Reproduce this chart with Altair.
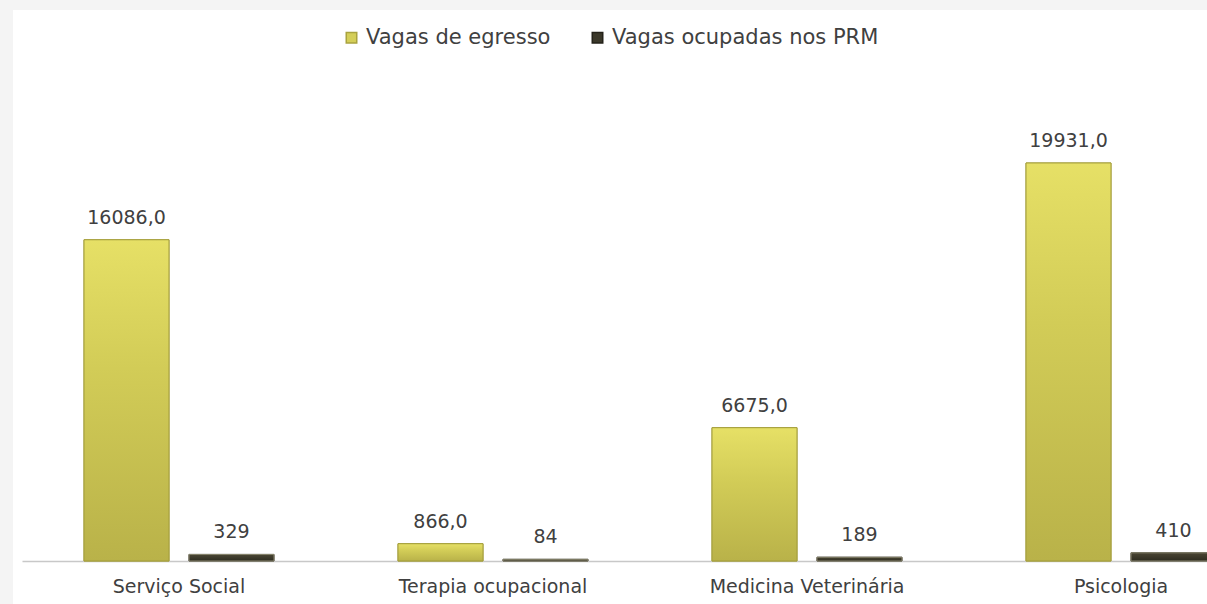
import altair as alt
import pandas as pd

categories = ["Serviço Social", "Terapia ocupacional", "Medicina Veterinária", "Psicologia"]
series = ["Vagas de egresso", "Vagas ocupadas nos PRM"]
egresso = [16086.0, 866.0, 6675.0, 19931.0]
ocupadas = [329, 84, 189, 410]
egresso_labels = ["16086,0", "866,0", "6675,0", "19931,0"]
ocupadas_labels = ["329", "84", "189", "410"]
colors = ["#d4ce58", "#3b382a"]
strokes = ["#a9a33f", "#24221a"]

rows = []
for c, v, l in zip(categories, egresso, egresso_labels):
    rows.append(dict(cat=c, serie=series[0], valor=v, rotulo=l))
for c, v, l in zip(categories, ocupadas, ocupadas_labels):
    rows.append(dict(cat=c, serie=series[1], valor=v, rotulo=l))
df = pd.DataFrame(rows)

FONT = "DejaVu Sans"
TXT = "#404040"

x = alt.X(
    "cat:N", sort=categories, title=None,
    scale=alt.Scale(range=[9, 1265], paddingInner=0.395, paddingOuter=0.1975),
    axis=alt.Axis(offset=-43, labelAngle=0, ticks=False, domainColor="#c8c8c8",
                  domainWidth=1.5, labelFontSize=19, labelColor=TXT, labelFont=FONT,
                  labelPadding=16, labelLimit=0),
)
xo = alt.XOffset("serie:N", sort=series, scale=alt.Scale(domain=series, paddingInner=0.1905, paddingOuter=0))
y = alt.Y("valor:Q", scale=alt.Scale(domain=[-2153, 27591], nice=False, zero=False), axis=None)

base = alt.Chart(df)

bars = base.mark_bar(strokeWidth=1).encode(
    x=x, xOffset=xo, y=y, y2=alt.datum(0),
    color=alt.Color("serie:N", sort=series, scale=alt.Scale(domain=series, range=colors),
                    legend=alt.Legend(title=None, orient="none", legendX=328, legendY=17,
                                      direction="horizontal", symbolType="square",
                                      symbolSize=110, symbolStrokeColor="#555",
                                      labelFontSize=21, labelFont=FONT, labelColor=TXT,
                                      labelLimit=0, columnPadding=36, labelOffset=4)),
    stroke=alt.Stroke("serie:N", sort=series, scale=alt.Scale(domain=series, range=strokes), legend=None),
)

yellow_grad = alt.Gradient(
    gradient="linear", x1=0, x2=0, y1=0, y2=1,
    stops=[alt.GradientStop(color="#e6e066", offset=0),
           alt.GradientStop(color="#d2cc57", offset=0.4),
           alt.GradientStop(color="#b9b249", offset=1)],
)
dark_grad = alt.Gradient(
    gradient="linear", x1=0, x2=0, y1=0, y2=1,
    stops=[alt.GradientStop(color="#4a4634", offset=0),
           alt.GradientStop(color="#2e2c20", offset=1)],
)

bars_y = base.transform_filter(alt.datum.serie == series[0]).mark_bar(
    fill=yellow_grad, stroke="#a39d3c", strokeWidth=1
).encode(x=x, xOffset=xo, y=y, y2=alt.datum(0))

bars_d = base.transform_filter(alt.datum.serie == series[1]).mark_bar(
    fill=dark_grad, stroke="#8a876f", strokeWidth=1
).encode(x=x, xOffset=xo, y=y, y2=alt.datum(0))

labels = base.mark_text(baseline="bottom", dy=-12, fontSize=19, font=FONT, color=TXT).encode(
    x=x, xOffset=xo, y=y, text="rotulo:N",
)

chart = alt.layer(bars, bars_y, bars_d, labels).properties(
    width=1194, height=594,
    autosize=alt.AutoSizeParams(type="none"),
    padding={"left": 13, "top": 10, "right": 0, "bottom": 0},
    background="#f4f4f4",
).configure_view(fill="white", stroke=None)

chart.save("out.html", embed_options={"renderer": "svg", "actions": False})
